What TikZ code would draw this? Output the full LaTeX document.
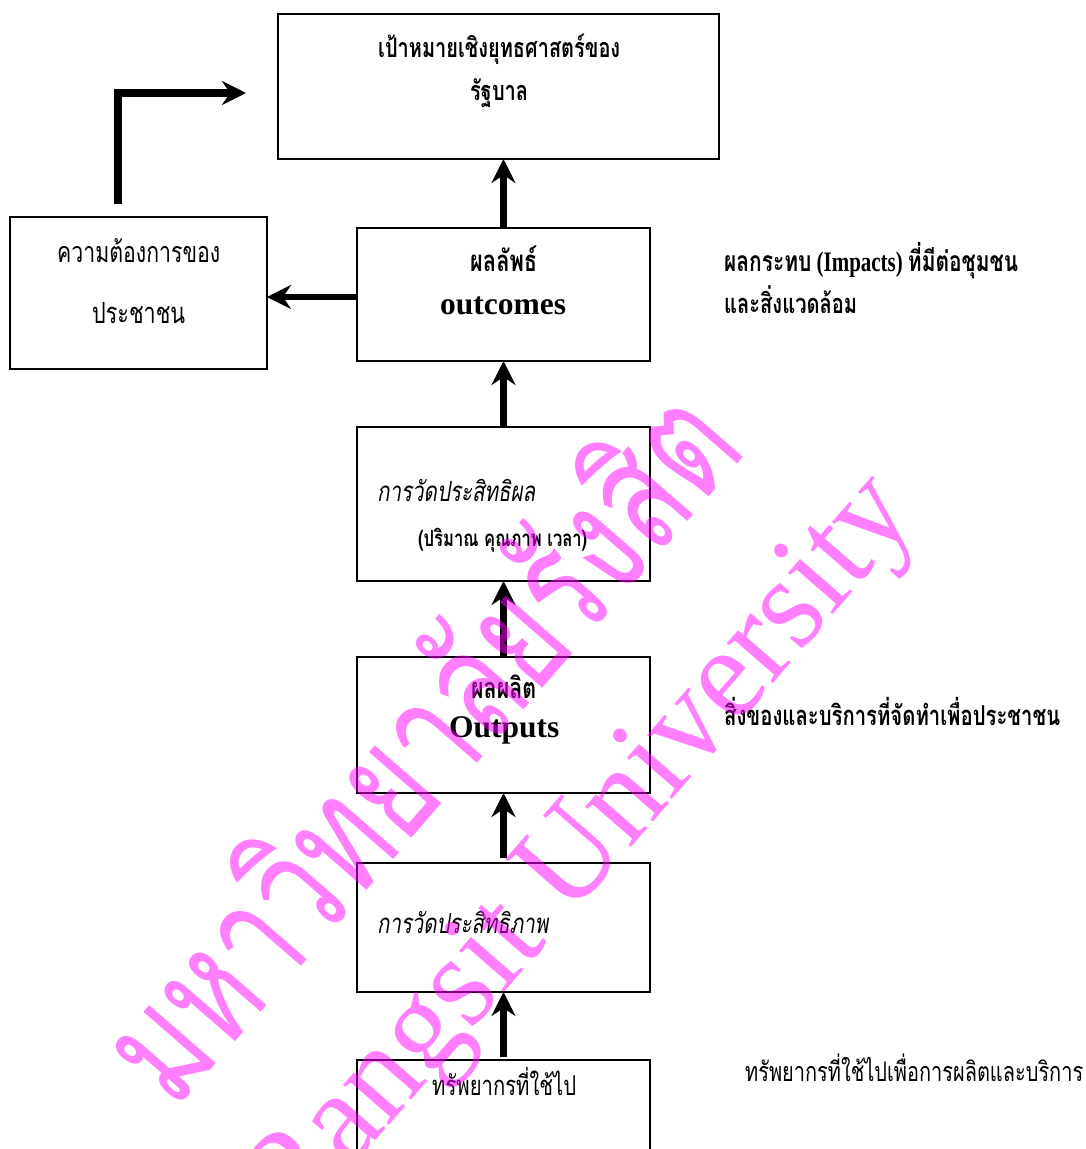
\documentclass[tikz,border=0pt]{standalone}
\usepackage{fontspec}
\usepackage{graphicx}
\setmainfont{Liberation Serif}
\newfontfamily\thai[Script=Thai]{Loma}
\usetikzlibrary{arrows.meta}
\definecolor{wmcol}{RGB}{255,0,255}
\newcommand\fw[3][1.35]{\scalebox{1}[#1]{\resizebox{#2pt}{!}{#3}}}
\tikzset{
  box/.style={draw, line width=1.6pt, inner sep=0pt, outer sep=0pt},
  flow/.style={line width=6.5pt, line join=miter, -{Stealth[length=24pt,width=24pt,inset=8pt]}},
  lbl/.style={inner sep=0pt, anchor=base west},
  wm/.style={inner sep=0pt, text=wmcol, text opacity=0.5, rotate=49},
}
\begin{document}
\begin{tikzpicture}[x=1pt,y=-1pt]
\useasboundingbox (0,0) rectangle (1086,1149);
% boxes
\node[box, minimum width=441pt, minimum height=145pt] (goal) at (498.5,86.5) {};
\node[box, minimum width=257pt, minimum height=152pt] (needs) at (138.5,293) {};
\node[box, minimum width=293pt, minimum height=133pt] (outc) at (503.5,294.5) {};
\node[box, minimum width=293pt, minimum height=154pt] (effv) at (503.5,504) {};
\node[box, minimum width=293pt, minimum height=136pt] (outp) at (503.5,725) {};
\node[box, minimum width=293pt, minimum height=129pt] (effc) at (503.5,927.5) {};
\node[box, minimum width=293pt, minimum height=110pt] (res) at (503.5,1115) {};
% texts
\node[lbl] (t1) at (378,57) {\fw{242}{\thai\bfseries เป้าหมายเชิงยุทธศาสตร์ของ}};
\node[lbl] (t2) at (470,100) {\fw{58}{\thai\bfseries รัฐบาล}};
\node[lbl] (n1) at (57,262) {\fw{163}{\thai ความต้องการของ}};
\node[lbl] (n2) at (92,323) {\fw{93}{\thai ประชาชน}};
\node[lbl] (o1) at (470,271) {\fw{67}{\thai\bfseries ผลลัพธ์}};
\node[lbl] (o2) at (440,314) {\fontsize{31.5}{36}\selectfont\bfseries outcomes};
\node[lbl] (i1) at (724,271) {\fw{294}{\bfseries{\thai ผลกระทบ} (Impacts) {\thai ที่มีต่อชุมชน}}};
\node[lbl] (i2) at (724,313) {\fw{133}{\thai\bfseries และสิ่งแวดล้อม}};
\node[lbl] (e1) at (377,501) {\fw{158}{\thai\itshape การวัดประสิทธิผล}};
\node[lbl] (e2) at (418,546) {\fw{169}{\thai\bfseries (ปริมาณ คุณภาพ เวลา)}};
\node[lbl] (p1) at (471,698) {\fw{65}{\thai\bfseries ผลผลิต}};
\node[lbl] (p2) at (449,737) {\fontsize{31.5}{36}\selectfont\bfseries Outputs};
\node[lbl] (p3) at (724,725) {\fw{336}{\thai\bfseries สิ่งของและบริการที่จัดทำเพื่อประชาชน}};
\node[lbl] (f1) at (377,933) {\fw{171}{\thai\itshape การวัดประสิทธิภาพ}};
\node[lbl] (r1) at (432,1095) {\fw{144}{\thai ทรัพยากรที่ใช้ไป}};
\node[lbl] (r2) at (745,1081) {\fw{338}{\thai ทรัพยากรที่ใช้ไปเพื่อการผลิตและบริการ}};
% arrows
\draw[flow] (outc.north) -- (outc.north |- goal.south);
\draw[flow] (effv.north) -- (outc.south);
\draw[flow] (outp.north) -- (effv.south);
\draw[flow] ([yshift=5pt]effc.north) -- (outp.south);
\draw[flow] ([yshift=3pt]res.north) -- (effc.south);
\draw[flow] ([yshift=-2.5pt]outc.west) -- ([yshift=-2.5pt]outc.west -| needs.east);
\coordinate (e0) at (118,204);
\coordinate (e1) at (246,93);
\draw[flow, line width=7.5pt] (e0) |- (e1);
% watermark
\node[wm] (w1) at (414,740) {\fw[1.4]{875}{\thai มหาวิทยาลัยรังสิต}};
\node[wm] (w2) at (585,855) {\fw[1.05]{950}{Rangsit University}};
\end{tikzpicture}
\end{document}
